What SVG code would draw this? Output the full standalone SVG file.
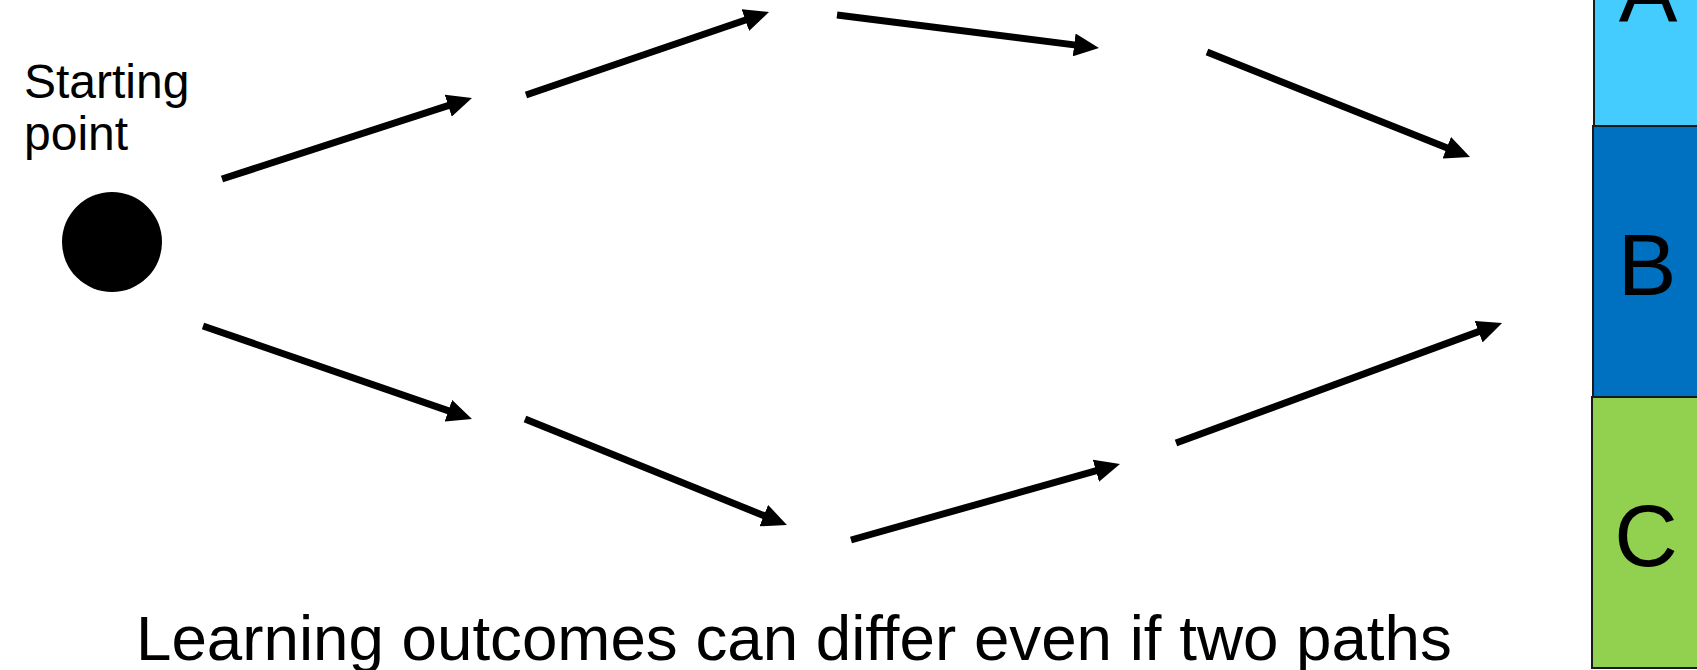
<svg xmlns="http://www.w3.org/2000/svg" width="1697" height="670" viewBox="0 0 1697 670">
<style>
.t{font-family:"Liberation Sans",Arial,sans-serif;fill:#000}
.arr{stroke:#000;stroke-width:7;fill:none;marker-end:url(#ah)}
.box{stroke:#1a1a1a;stroke-width:2}
</style>
<defs>
<marker id="ah" viewBox="0 0 25 23" refX="8" refY="11.5" markerWidth="25" markerHeight="23" markerUnits="userSpaceOnUse" orient="auto">
<path d="M0,0 L25,11.5 L0,23 z" fill="#000"/>
</marker>
</defs>
<rect width="1697" height="670" fill="#fff"/>
<g id="start">
<circle cx="112" cy="242" r="50" fill="#000"/>
<text class="t" x="24" y="98" font-size="48">Starting</text>
<text class="t" x="24" y="150" font-size="48">point</text>
</g>
<g id="boxA">
<rect class="box" x="1594" y="-145" width="120" height="271" fill="#45CCFF"/>
<text class="t" x="1648" y="22" font-size="88" text-anchor="middle">A</text>
</g>
<g id="boxB">
<rect class="box" x="1593" y="126" width="120" height="271" fill="#0070C0"/>
<text class="t" x="1647" y="295" font-size="88" text-anchor="middle">B</text>
</g>
<g id="boxC">
<rect class="box" x="1592" y="397" width="120" height="271" fill="#92D050"/>
<text class="t" x="1646" y="566" font-size="88" text-anchor="middle">C</text>
</g>
<g id="caption">
<text class="t" x="136" y="660" font-size="63.7">Learning outcomes can differ even if two paths</text>
</g>
<g id="connectors">
<line class="arr" x1="222" y1="179" x2="455.8" y2="103.2"/>
<line class="arr" x1="526" y1="95" x2="752.9" y2="17.5"/>
<line class="arr" x1="837" y1="15" x2="1082.1" y2="45.9"/>
<line class="arr" x1="1207" y1="52" x2="1454.2" y2="150.7"/>
<line class="arr" x1="203" y1="326" x2="455.9" y2="413.4"/>
<line class="arr" x1="525" y1="419" x2="771.2" y2="518.6"/>
<line class="arr" x1="851" y1="540" x2="1103.6" y2="468.6"/>
<line class="arr" x1="1176" y1="443" x2="1486.1" y2="328.9"/>
</g>
</svg>
